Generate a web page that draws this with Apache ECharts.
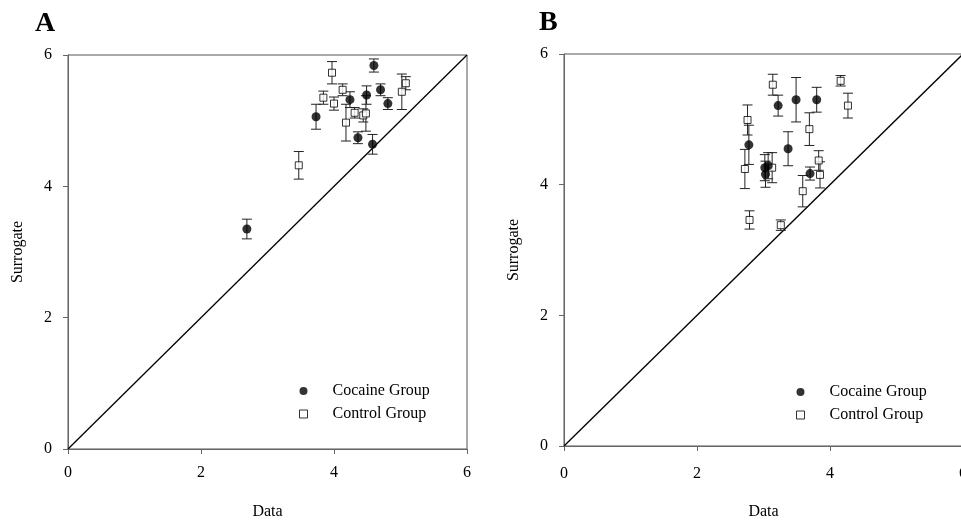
<!DOCTYPE html>
<html>
<head>
<meta charset="utf-8">
<script src="https://cdn.jsdelivr.net/npm/echarts@6/dist/echarts.min.js"></script>
<style>
  html, body { margin: 0; padding: 0; background: #fff; }
  #main { width: 961px; height: 520px; }
</style>
</head>
<body>
<div id="main"></div>
<script>
// [data, surrogate, error]
var cocaineA = [[2.69,3.35,0.15],[3.73,5.06,0.19],[4.24,5.32,0.12],[4.36,4.74,0.09],[4.49,5.39,0.14],
  [4.58,4.64,0.15],[4.60,5.84,0.10],[4.70,5.47,0.09],[4.81,5.26,0.09]];
var controlA = [[3.47,4.32,0.21],[3.84,5.35,0.10],[3.97,5.73,0.17],[4.00,5.26,0.10],[4.13,5.47,0.09],
  [4.18,4.97,0.28],[4.31,5.12,0.08],[4.44,5.08,0.10],[4.48,5.11,0.27],[5.02,5.44,0.27],[5.08,5.57,0.10]];
var cocaineB = [[2.78,4.61,0.30],[3.02,4.26,0.20],[3.07,4.29,0.20],[3.03,4.16,0.20],[3.22,5.21,0.16],
  [3.37,4.55,0.26],[3.49,5.30,0.34],[3.70,4.17,0.10],[3.80,5.30,0.19]];
var controlB = [[2.72,4.24,0.30],[2.76,4.99,0.23],[2.79,3.46,0.14],[3.13,4.26,0.23],[3.14,5.53,0.16],
  [3.26,3.38,0.08],[3.59,3.90,0.24],[3.69,4.85,0.25],[3.83,4.37,0.15],[3.85,4.15,0.20],
  [4.16,5.59,0.08],[4.27,5.21,0.19]];
var diagonal = [[0, 0], [6, 6]];

var font = 'Liberation Serif';
var chart = echarts.init(document.getElementById('main'));

function errorBars(idx, data) {
  return {
    type: 'custom', name: 'err', xAxisIndex: idx, yAxisIndex: idx, z: 1,
    data: data.map(function (d) { return [d[0], d[1] - d[2], d[1] + d[2]]; }),
    renderItem: function (params, api) {
      var lo = api.coord([api.value(0), api.value(1)]);
      var hi = api.coord([api.value(0), api.value(2)]);
      var w = 5;
      var st = { stroke: '#222', lineWidth: 1 };
      return { type: 'group', children: [
        { type: 'line', shape: { x1: lo[0], y1: lo[1], x2: hi[0], y2: hi[1] }, style: st },
        { type: 'line', shape: { x1: lo[0] - w, y1: lo[1], x2: lo[0] + w, y2: lo[1] }, style: st },
        { type: 'line', shape: { x1: hi[0] - w, y1: hi[1], x2: hi[0] + w, y2: hi[1] }, style: st }
      ] };
    }
  };
}

function xAx(idx, margin, gap) {
  return {
    type: 'value', gridIndex: idx, min: 0, max: 6, interval: 2,
    name: 'Data', nameLocation: 'middle', nameGap: gap,
    nameTextStyle: { fontFamily: font, fontSize: 16, color: '#000' },
    axisLine: { lineStyle: { color: '#666' } },
    axisTick: { length: 5, lineStyle: { color: '#666' } },
    axisLabel: { fontFamily: font, fontSize: 16, color: '#000', margin: margin },
    splitLine: { show: false }
  };
}
function yAx(idx) {
  return {
    type: 'value', gridIndex: idx, min: 0, max: 6, interval: 2,
    name: 'Surrogate', nameLocation: 'middle', nameGap: 42,
    nameTextStyle: { fontFamily: font, fontSize: 16, color: '#000' },
    axisLine: { show: true, lineStyle: { color: '#666' } },
    axisTick: { show: true, length: 5, lineStyle: { color: '#666' } },
    axisLabel: { fontFamily: font, fontSize: 16, color: '#000', margin: 16 },
    splitLine: { show: false }
  };
}

var cocStyle = { color: '#000' };
var conStyle = { color: '#fff', borderColor: '#000', borderWidth: 1 };

function legend(left, top) {
  return {
    orient: 'vertical', left: left, top: top, itemWidth: 8, itemHeight: 8, itemGap: 7,
    data: ['Cocaine Group', 'Control Group'],
    itemStyle: { borderWidth: 1 },
    textStyle: { fontFamily: font, fontSize: 16, color: '#000', padding: [0, 0, 0, 20] }
  };
}

var option = {
  backgroundColor: '#fff',
  animation: false,
  title: [
    { text: 'A', left: 30, top: 5, textStyle: { fontFamily: font, fontSize: 28, fontWeight: 'bold', color: '#000' } },
    { text: 'B', left: 534, top: 4, textStyle: { fontFamily: font, fontSize: 28, fontWeight: 'bold', color: '#000' } }
  ],
  legend: [legend(294, 378), legend(791, 379)],
  grid: [
    { left: 68, top: 55, width: 399, height: 394, show: true, borderColor: '#555', borderWidth: 1,
      outerBoundsMode: 'none' },
    { left: 564, top: 54, width: 399, height: 392, show: true, borderColor: '#555', borderWidth: 1,
      outerBoundsMode: 'none' }
  ],
  xAxis: [xAx(0, 16, 55), xAx(1, 20, 58)],
  yAxis: [yAx(0), yAx(1)],
  series: [
    { type: 'line', xAxisIndex: 0, yAxisIndex: 0, data: diagonal, symbol: 'none', z: 0,
      lineStyle: { color: '#000', width: 1.3 } },
    { type: 'line', xAxisIndex: 1, yAxisIndex: 1, data: diagonal, symbol: 'none', z: 0,
      lineStyle: { color: '#000', width: 1.3 } },
    errorBars(0, cocaineA), errorBars(0, controlA),
    errorBars(1, cocaineB), errorBars(1, controlB),
    { type: 'scatter', name: 'Cocaine Group', xAxisIndex: 0, yAxisIndex: 0, z: 3,
      symbol: 'circle', symbolSize: 9, itemStyle: cocStyle, data: cocaineA },
    { type: 'scatter', name: 'Control Group', xAxisIndex: 0, yAxisIndex: 0, z: 2,
      symbol: 'rect', symbolSize: 7, itemStyle: conStyle, data: controlA },
    { type: 'scatter', name: 'Cocaine Group', xAxisIndex: 1, yAxisIndex: 1, z: 3,
      symbol: 'circle', symbolSize: 9, itemStyle: cocStyle, data: cocaineB },
    { type: 'scatter', name: 'Control Group', xAxisIndex: 1, yAxisIndex: 1, z: 2,
      symbol: 'rect', symbolSize: 7, itemStyle: conStyle, data: controlB }
  ]
};
chart.setOption(option);
</script>
</body>
</html>
